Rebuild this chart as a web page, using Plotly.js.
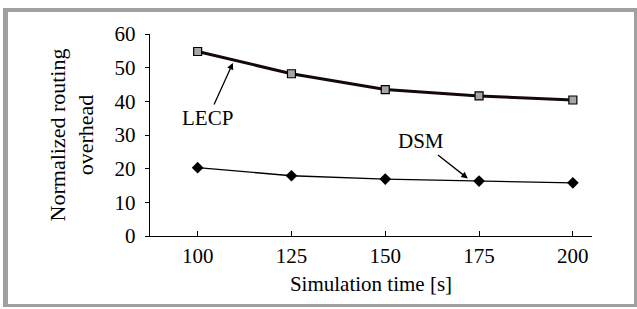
<!DOCTYPE html>
<html>
<head>
<meta charset="utf-8">
<script src="https://cdn.plot.ly/plotly-3.0.1.min.js"></script>
<style>
  html, body { margin: 0; padding: 0; background: #ffffff; }
  #wrap { position: relative; width: 637px; height: 309px; overflow: hidden; }
  #frame { position: absolute; left: 3px; top: 8px; width: 626px; height: 292px;
           border-left: 5px solid #a0a0a0; border-top: 4px solid #a0a0a0;
           border-right: 3px solid #a0a0a0; border-bottom: 3px solid #a0a0a0; pointer-events: none; }
  #chart { position: absolute; left: 0; top: 0; width: 637px; height: 309px; }
</style>
</head>
<body>
<div id="wrap">
  <div id="chart"></div>
  <div id="frame"></div>
</div>
<script>
var simTime = [100, 125, 150, 175, 200];
var lecpValues = [54.8, 48.2, 43.5, 41.6, 40.4];
var dsmValues = [20.3, 17.9, 16.9, 16.3, 15.8];
var yTicks = [0, 10, 20, 30, 40, 50, 60];
var xTicks = [100, 125, 150, 175, 200];

var serif = "'Liberation Serif'";

var traces = [
  {
    x: simTime, y: lecpValues, name: 'LECP', type: 'scatter', mode: 'lines+markers',
    line: {color: '#140808', width: 3},
    marker: {symbol: 'square', size: 8, color: '#a6a6a6', line: {color: '#000000', width: 1.2}}
  },
  {
    x: simTime, y: dsmValues, name: 'DSM', type: 'scatter', mode: 'lines+markers',
    line: {color: '#000000', width: 1.3},
    marker: {symbol: 'diamond', size: 9, color: '#000000', line: {color: '#000000', width: 0}}
  }
];

var layout = {
  width: 637, height: 309,
  margin: {l: 150, r: 45, t: 34, b: 73, pad: 0},
  paper_bgcolor: '#ffffff', plot_bgcolor: '#ffffff',
  showlegend: false,
  font: {family: serif, size: 21, color: '#000000'},
  xaxis: {
    range: [87.3, 205.1], tickvals: xTicks, ticktext: xTicks.map(String),
    showgrid: false, zeroline: false, showline: true, linecolor: '#000000', linewidth: 1.3,
    ticks: 'inside', ticklen: 5, tickwidth: 1, tickcolor: '#000000',
    tickfont: {family: serif, size: 21, color: '#000000'},
    title: {text: 'Simulation time [s]', font: {family: serif, size: 21, color: '#000000'}, standoff: 9}
  },
  yaxis: {
    range: [0, 60], tickvals: yTicks, ticktext: yTicks.map(String),
    showgrid: false, zeroline: false, showline: true, linecolor: '#000000', linewidth: 1.3,
    ticks: 'outside', ticklen: 4, tickwidth: 1, tickcolor: '#000000',
    ticklabelstandoff: 5,
    tickfont: {family: serif, size: 21, color: '#000000'},
    title: {text: 'Normalized routing<br>overhead', font: {family: serif, size: 22, color: '#000000'}, standoff: 14}
  },
  annotations: [
    {
      x: 109.4, y: 51.4, xref: 'x', yref: 'y', text: 'LECP', showarrow: true,
      ax: -25, ay: 55, arrowhead: 2, arrowsize: 1, arrowwidth: 1.3, arrowcolor: '#000000',
      font: {family: serif, size: 21, color: '#000000'}
    },
    {
      x: 172.0, y: 17.1, xref: 'x', yref: 'y', text: 'DSM', showarrow: true,
      ax: -47, ay: -37, arrowhead: 2, arrowsize: 1, arrowwidth: 1.3, arrowcolor: '#000000',
      font: {family: serif, size: 21, color: '#000000'}
    }
  ]
};

Plotly.newPlot('chart', traces, layout, {displayModeBar: false, staticPlot: true});
</script>
</body>
</html>
